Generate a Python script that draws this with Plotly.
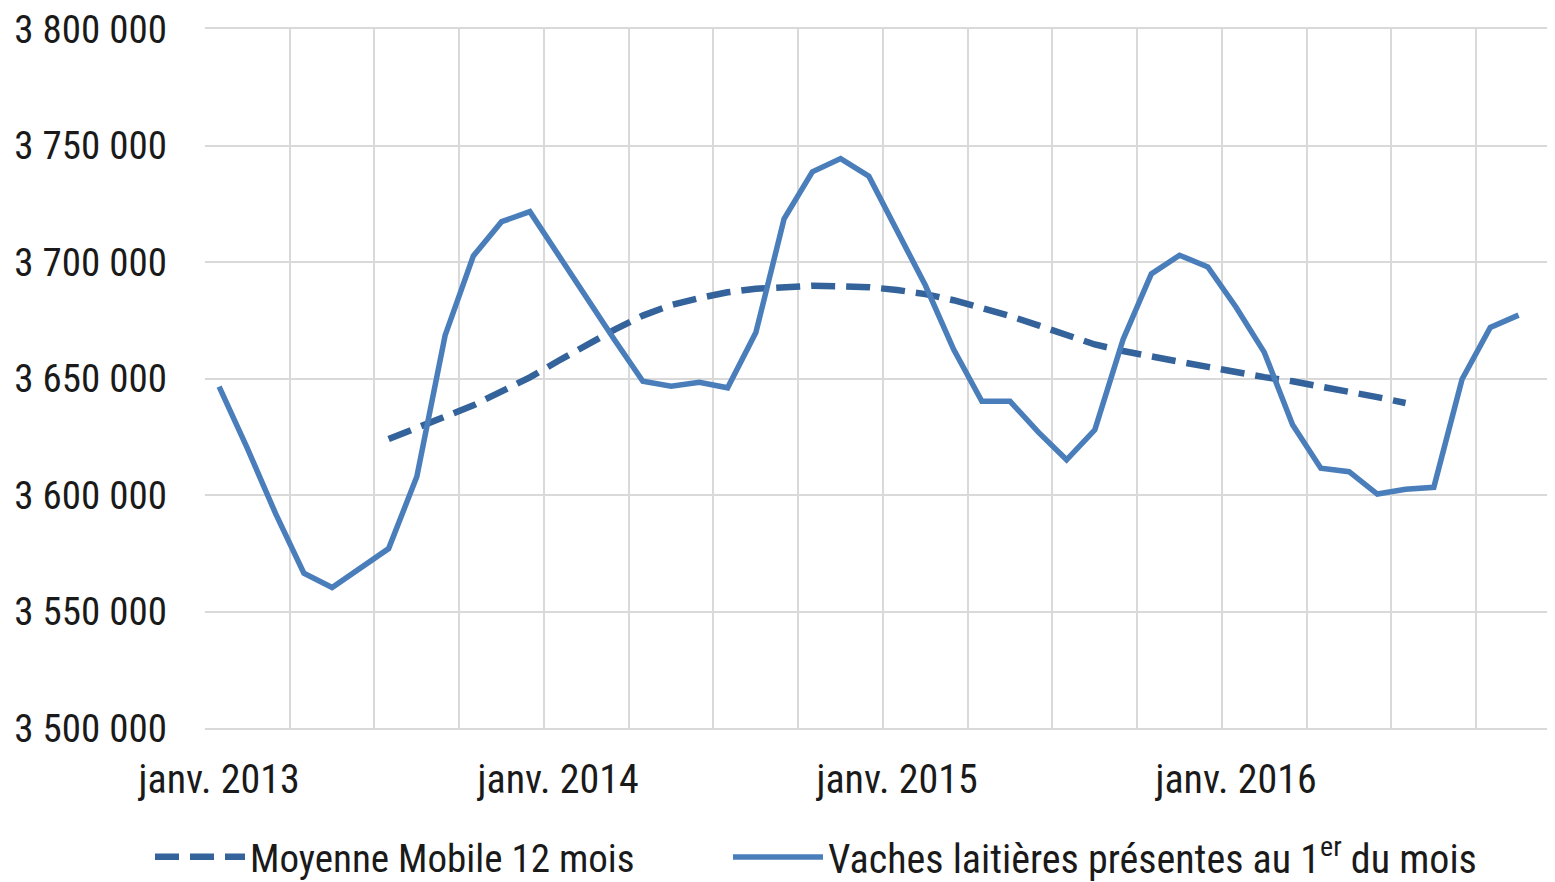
import plotly.graph_objects as go

# ---- data ----
month_labels = ["janv. 2013", "janv. 2014", "janv. 2015", "janv. 2016"]
label_positions = [0, 12, 24, 36]

vaches = [
    3646500, 3620000, 3592000, 3566400, 3560300, 3568700, 3577000, 3607900, 3668500, 3702600, 3717300, 3721600,  # 2013
    3703000, 3685000, 3666500, 3648800, 3646700, 3648400, 3646000, 3669700, 3718500, 3738700, 3744400, 3736800,  # 2014
    3713800, 3690000, 3662500, 3640200, 3640200, 3627000, 3615100, 3628000, 3666800, 3694900, 3702900, 3697900,  # 2015
    3680600, 3661200, 3630200, 3611500, 3610000, 3600400, 3602500, 3603300, 3649700, 3671900, 3677200,           # 2016 (jan-nov)
]
vaches_x = list(range(len(vaches)))

moyenne = [
    3624000, 3629000, 3633500, 3638500, 3644500, 3650500,                                                        # jul-dec 2013
    3657500, 3664500, 3671000, 3677000, 3681500, 3684500, 3687000, 3688500, 3689300, 3689800, 3689600, 3689200,  # 2014
    3688000, 3686200, 3683600, 3680500, 3676800, 3672800, 3668700, 3664600, 3661800, 3659200, 3657200, 3655000,  # 2015
    3652500, 3650600, 3648800, 3646700, 3644300, 3642000, 3639500,                                               # jan-jul 2016
]
moyenne_x = list(range(6, 6 + len(moyenne)))

y_ticks = [3500000, 3550000, 3600000, 3650000, 3700000, 3750000, 3800000]
y_ticktext = ["3 500 000", "3 550 000", "3 600 000", "3 650 000", "3 700 000", "3 750 000", "3 800 000"]

FONT = "Liberation Sans Narrow, Arial Narrow, Roboto Condensed, DejaVu Sans Condensed, sans-serif"
GRID = "#d9d9d9"
# the page body adds an 8px margin, so the figure is drawn 8px in from the window edge
W, H = 1547, 874

fig = go.Figure()
fig.add_trace(go.Scatter(
    x=moyenne_x, y=moyenne, mode="lines", name="Moyenne Mobile 12 mois",
    line=dict(color="#33639a", width=6.5, dash="24px,11px"),
    legend="legend",
))
fig.add_trace(go.Scatter(
    x=vaches_x, y=vaches, mode="lines", name="Vaches laitières présentes au 1<sup>er</sup> du mois",
    line=dict(color="#4a7ebb", width=5.5),
    legend="legend2",
))

legend_common = dict(
    orientation="h", xref="container", yref="container",
    xanchor="left", yanchor="middle",
    itemwidth=90,
    bgcolor="rgba(0,0,0,0)",
)

fig.update_layout(
    width=W, height=H,
    margin=dict(l=197, r=0, t=21, b=154, autoexpand=False),
    paper_bgcolor="white", plot_bgcolor="white",
    font=dict(family=FONT, size=40, color="#1a1a1a"),
    showlegend=True,
    legend=dict(legend_common, x=142 / W, y=1 - 849 / H,
                font=dict(family=FONT, size=39, color="#1a1a1a")),
    legend2=dict(legend_common, x=720 / W, y=1 - 849 / H,
                 font=dict(family=FONT, size=40, color="#1a1a1a")),
    xaxis=dict(
        range=[-0.5, 47.29], automargin=False,
        tickmode="array", tickvals=label_positions, ticktext=month_labels,
        showgrid=False, zeroline=False,
        showline=True, mirror=True, linecolor=GRID, linewidth=2,
        ticks="", ticklabelstandoff=15, ticklabeloverflow="allow",
        minor=dict(tick0=-0.5, dtick=3, showgrid=True, gridcolor=GRID, gridwidth=2, ticks=""),
        tickfont=dict(family=FONT, size=40),
    ),
    yaxis=dict(
        range=[3500000, 3800000], automargin=False,
        tickmode="array", tickvals=y_ticks, ticktext=y_ticktext,
        showgrid=True, gridcolor=GRID, gridwidth=2,
        zeroline=False, showline=False, ticks="",
        ticklabelstandoff=37, ticklabeloverflow="allow",
        tickfont=dict(family=FONT, size=39),
    ),
)

fig.write_html("out.html")
